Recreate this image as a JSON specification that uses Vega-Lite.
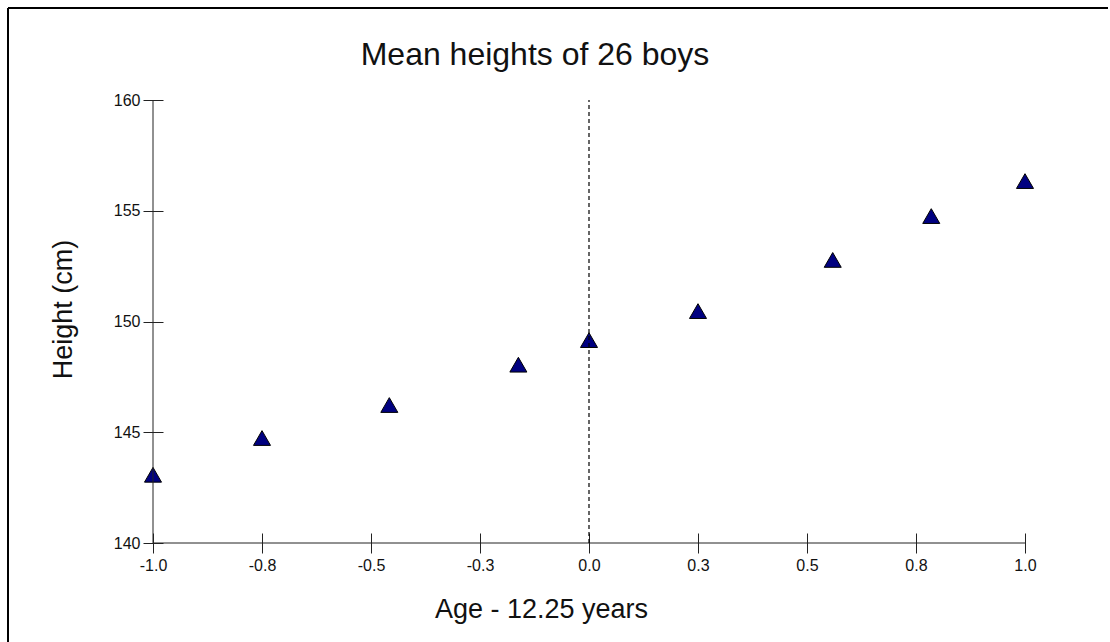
{
  "$schema": "https://vega.github.io/schema/vega-lite/v6.json",
  "width": 1100,
  "height": 634,
  "autosize": {"type": "none"},
  "padding": {"left": 8, "top": 8, "right": 2, "bottom": 0},
  "background": "white",
  "config": {
    "view": {"stroke": null},
    "font": "Liberation Sans",
    "axis": {"labelFont": "Liberation Sans", "titleFont": "Liberation Sans", "labelColor": "#111", "titleColor": "#111", "titleFontWeight": "normal", "grid": false}
  },
  "title": {
    "text": "Mean heights of 26 boys",
    "font": "Liberation Sans",
    "fontSize": 32,
    "fontWeight": "normal",
    "color": "#111",
    "anchor": "middle",
    "frame": "group",
    "dx": -23,
    "dy": 35,
    "offset": -55,
    "baseline": "alphabetic"
  },
  "datasets": {
    "boys": [
      {"age": -1.0, "height": 143.08},
      {"age": -0.75, "height": 144.74},
      {"age": -0.458, "height": 146.23},
      {"age": -0.162, "height": 148.05},
      {"age": 0.0, "height": 149.16},
      {"age": 0.25, "height": 150.47},
      {"age": 0.559, "height": 152.78},
      {"age": 0.785, "height": 154.76},
      {"age": 1.0, "height": 156.34}
    ]
  },
  "layer": [
    {
      "data": {"name": "boys"},
      "mark": {"type": "point", "shape": "triangle-up", "filled": true, "fill": "#000080", "stroke": "#000000", "strokeWidth": 1, "size": 290, "opacity": 1},
      "encoding": {
        "x": {
          "field": "age",
          "type": "quantitative",
          "scale": {"domain": [-1.33257, 1.19037], "nice": false, "zero": false},
          "axis": {
            "orient": "bottom",
            "offset": -109,
            "domain": false,
            "values": [-1, -0.75, -0.5, -0.25, 0, 0.25, 0.5, 0.75, 1],
            "format": ".1f",
            "labelExpr": "replace(datum.label, '\u2212', '-')",
            "tickSize": 20,
            "tickColor": "#222",
            "tickWidth": 1,
            "labelPadding": 4,
            "labelFontSize": 16,
            "labelFlush": false,
            "labelOverlap": false,
            "title": "Age - 12.25 years",
            "titleFontSize": 27,
            "titleX": 533,
            "titleY": 84,
            "titleBaseline": "alphabetic",
            "titleAlign": "center",
            "titleAnchor": null
          }
        },
        "y": {
          "field": "height",
          "type": "quantitative",
          "scale": {"domain": [135.5305, 164.1535], "nice": false, "zero": false},
          "axis": {
            "orient": "left",
            "offset": -155,
            "domain": false,
            "values": [140, 145, 150, 155, 160],
            "tickSize": 20,
            "tickColor": "#222",
            "tickWidth": 1,
            "labelPadding": 3,
            "labelFontSize": 16,
            "labelFlush": false,
            "labelOverlap": false,
            "title": "Height (cm)",
            "titleFontSize": 27,
            "titleAngle": -90,
            "titleX": -100,
            "titleY": 301,
            "titleBaseline": "middle",
            "titleAlign": "center"
          }
        }
      }
    },
    {
      "data": {"values": [{"x1": -1, "x2": 1, "y": 140}]},
      "mark": {"type": "rule", "color": "#222", "strokeWidth": 1},
      "encoding": {
        "x": {"field": "x1", "type": "quantitative"},
        "x2": {"field": "x2"},
        "y": {"field": "y", "type": "quantitative"}
      }
    },
    {
      "data": {"values": [{"x": -1, "y1": 140, "y2": 160}]},
      "mark": {"type": "rule", "color": "#222", "strokeWidth": 1},
      "encoding": {
        "x": {"field": "x", "type": "quantitative"},
        "y": {"field": "y1", "type": "quantitative"},
        "y2": {"field": "y2"}
      }
    },
    {
      "data": {"values": [{"x": 0, "y1": 140, "y2": 160}]},
      "mark": {"type": "rule", "color": "#000", "strokeWidth": 1.2, "strokeDash": [4, 3]},
      "encoding": {
        "x": {"field": "x", "type": "quantitative"},
        "y": {"field": "y1", "type": "quantitative"},
        "y2": {"field": "y2"}
      }
    },
    {
      "data": {"values": [{"x": -1.33257}]},
      "mark": {"type": "rule", "color": "#000", "strokeWidth": 2},
      "encoding": {
        "x": {"field": "x", "type": "quantitative"}
      }
    },
    {
      "data": {"values": [{"y": 164.1535}]},
      "mark": {"type": "rule", "color": "#000", "strokeWidth": 2},
      "encoding": {
        "y": {"field": "y", "type": "quantitative"}
      }
    }
  ]
}
